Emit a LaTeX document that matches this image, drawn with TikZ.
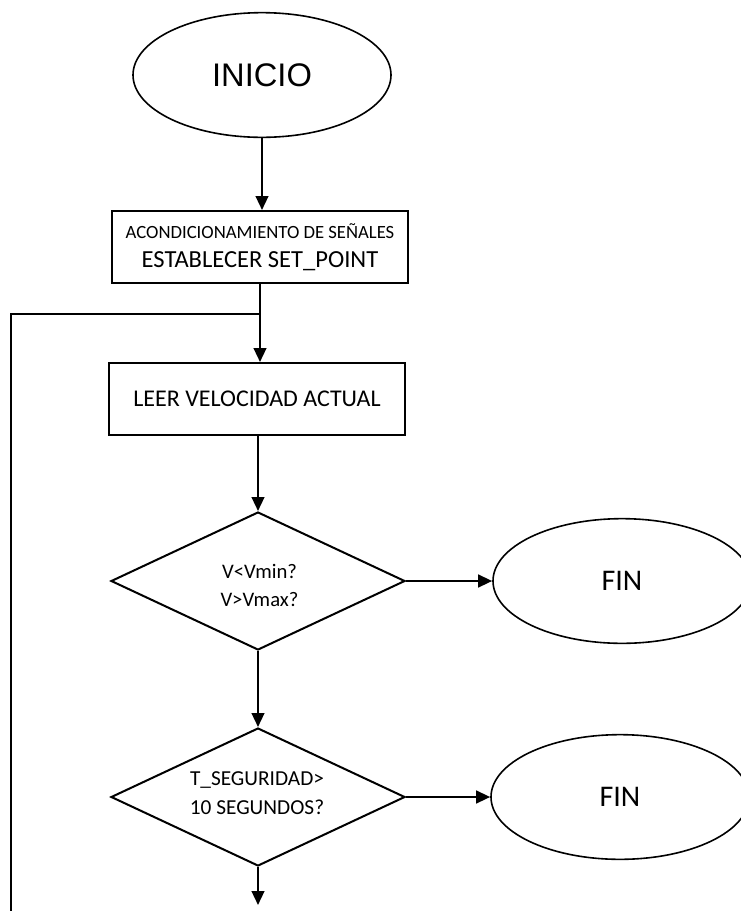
\documentclass[tikz,border=0pt]{standalone}
\usepackage{fontspec}
\setmainfont{Carlito}
\newfontfamily\arialfont{Liberation Sans}
\usetikzlibrary{shapes.geometric,arrows.meta}
\begin{document}
\begin{tikzpicture}[x=0.75pt,y=-0.75pt,
  flowline/.style={line width=1.7pt,-{Triangle[width=9.5pt,length=10.5pt]}},
  plainline/.style={line width=1.7pt},
  terminal/.style={ellipse,draw,line width=1.2pt,inner sep=0pt,minimum width=193.5pt,minimum height=93.5pt},
  procbox/.style={rectangle,draw,line width=1.5pt,inner sep=0pt,minimum width=222pt,minimum height=54pt,align=center},
  decision/.style={diamond,draw,line width=1.5pt,inner sep=0pt,minimum width=220.5pt,minimum height=103.5pt},
  label/.style={inner sep=0pt,anchor=base}]
\useasboundingbox (0,0) rectangle (741,911);
\clip (0,0) rectangle (741,911);

% terminals and process blocks
\node[terminal,font=\arialfont\fontsize{24.5}{28}\selectfont] (inicio) at (262,75) {INICIO};
\node[procbox] (acond) at (260,247) {};
\node[label,font=\fontsize{14}{16}\selectfont] (acondA) at (260,238) {ACONDICIONAMIENTO DE SEÑALES};
\node[label,font=\fontsize{18.4}{21}\selectfont] (acondB) at (260,267) {ESTABLECER SET\_POINT};
\node[procbox,font=\fontsize{18}{21}\selectfont] (leer) at (257,399) {LEER VELOCIDAD ACTUAL};

% decisions with their two-line questions
\node[decision] (dec1) at (258,581) {};
\node[label,font=\fontsize{15.5}{18}\selectfont] (dec1a) at (259.5,578) {V<Vmin?};
\node[label,font=\fontsize{15.5}{18}\selectfont] (dec1b) at (259.5,606) {V>Vmax?};
\node[decision] (dec2) at (258,797) {};
\node[label,font=\fontsize{16}{19}\selectfont] (dec2a) at (257,785) {T\_SEGURIDAD>};
\node[label,font=\fontsize{16}{19}\selectfont] (dec2b) at (257,814) {10 SEGUNDOS?};

% end states
\node[terminal,font=\fontsize{22.5}{26}\selectfont] (fin1) at (622,581) {FIN};
\node[terminal,font=\fontsize{22.5}{26}\selectfont] (fin2) at (620,797) {FIN};

% loop-back junction and free ends
\coordinate (junc) at (acond.south |- 0,314);
\coordinate (loopcorner) at (11,314);
\coordinate (loopbottom) at (11,915);
\coordinate (exit) at (dec2.south |- 0,905);

% connectors
\draw[flowline] (inicio.south) -- (inicio.south |- acond.north);
\draw[plainline] (acond.south) -- (junc);
\draw[flowline] (junc) -- (acond.south |- leer.north);
\draw[plainline] (loopbottom) -- (loopcorner) -- (junc);
\draw[flowline] (leer.south -| dec1.north) -- (dec1.north);
\draw[flowline] (dec1.east) -- (fin1.west);
\draw[flowline] (dec1.south) -- (dec2.north);
\draw[flowline] (dec2.east) -- (fin2.west);
\draw[flowline] (dec2.south) -- (exit);
\end{tikzpicture}
\end{document}
